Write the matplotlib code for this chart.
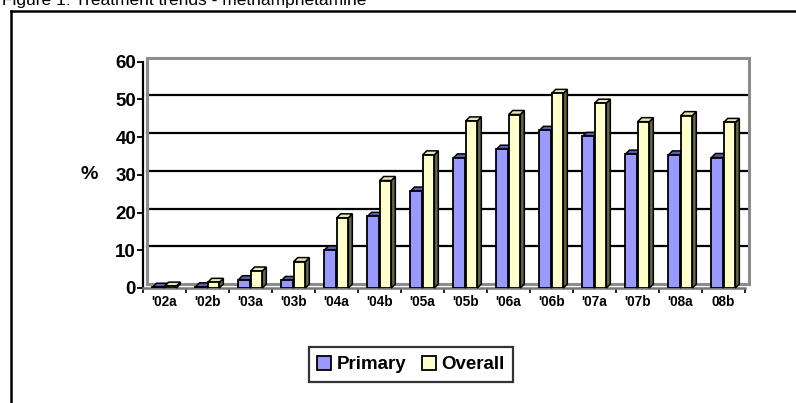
import matplotlib
matplotlib.use("Agg")
import matplotlib.pyplot as plt
import numpy as np
from matplotlib.patches import Polygon, Patch
from matplotlib.lines import Line2D

plt.rcParams['font.family'] = ['Liberation Sans', 'DejaVu Sans']

# data
periods = ["'02a", "'02b", "'03a", "'03b", "'04a", "'04b", "'05a",
           "'05b", "'06a", "'06b", "'07a", "'07b", "'08a", "08b"]
primary = [0.2, 0.3, 2.2, 2.0, 10.1, 19.0, 25.7,
           34.5, 36.8, 41.8, 40.2, 35.5, 35.3, 34.6]
overall = [0.5, 1.5, 4.5, 7.0, 18.6, 28.5, 35.3,
           44.3, 46.0, 51.6, 49.0, 44.1, 45.7, 43.9]

W, H = 796, 403
fig = plt.figure(figsize=(W / 100, H / 100), dpi=100)

# title, cut off at the top like the source image
fig.text(2 / W, 1 - 5.5 / H, "Figure 1: Treatment trends - methamphetamine",
         fontsize=12.5, va='baseline', ha='left')

# outer frame (runs off the right and bottom edges)
fig.add_artist(Line2D([10.5 / W, 1.0], [1 - 10.5 / H, 1 - 10.5 / H],
                      color='black', lw=1.8, transform=fig.transFigure))
fig.add_artist(Line2D([10.5 / W, 10.5 / W], [1 - 10.5 / H, 0.0],
                      color='black', lw=1.8, transform=fig.transFigure))

ax_l, ax_r, ax_b, ax_t = 143, 745, 288, 61.7
ax = fig.add_axes([ax_l / W, 1 - ax_b / H, (ax_r - ax_l) / W, (ax_b - ax_t) / H])
n = len(periods)
ax.set_xlim(-0.5, n - 0.5)
ax.set_ylim(0, 60)

# 3D depth offset in data units (about 4 px each way)
dx = 4 / ((ax_r - ax_l) / n)
dy = 4 / ((ax_b - ax_t) / 60)

# back wall: gridlines and grey border
for v in [10, 20, 30, 40, 50]:
    ax.plot([-0.5 + dx, n - 0.5 + dx], [v + dy, v + dy], color='black',
            lw=1.6, zorder=1, clip_on=False)
wall = dict(color='#8c8c8c', lw=2.2, zorder=1, clip_on=False)
ax.plot([-0.5 + dx, n - 0.5 + dx], [60 + dy, 60 + dy], **wall)
ax.plot([n - 0.5 + dx, n - 0.5 + dx], [dy, 60 + dy], **wall)
ax.plot([-0.5 + dx, -0.5 + dx], [dy, 60 + dy], **wall)
ax.plot([-0.5 + dx, n - 0.5 + dx], [dy, dy], **wall)

x = np.arange(n)
bw = 0.27
series = [
    (primary, x - 0.28, '#9999FF', '#5c5cb0', '#2e2e66', 3),
    (overall, x + 0.005, '#FFFFCC', '#e8e8b4', '#66664a', 4),
]
for vals, lefts, front, top, side, z in series:
    ax.bar(lefts, vals, width=bw, align='edge', color=front,
           edgecolor='black', lw=1.3, zorder=z + 0.5)
    for l, v in zip(lefts, vals):
        r = l + bw
        ax.add_patch(Polygon([(r, 0), (r + dx, dy), (r + dx, v + dy), (r, v)],
                             closed=True, facecolor=side, edgecolor='black',
                             lw=1.1, zorder=z, clip_on=False))
        ax.add_patch(Polygon([(l, v), (l + dx, v + dy), (r + dx, v + dy), (r, v)],
                             closed=True, facecolor=top, edgecolor='black',
                             lw=1.1, zorder=z, clip_on=False))

# axes styling
for s in ['top', 'right']:
    ax.spines[s].set_visible(False)
ax.spines['left'].set_color('black')
ax.spines['left'].set_linewidth(1.6)
ax.spines['bottom'].set_color('#777777')
ax.spines['bottom'].set_linewidth(1.8)
ax.set_yticks([0, 10, 20, 30, 40, 50, 60])
ax.tick_params(axis='y', length=4, width=1.3, pad=1, labelsize=13.5)
for t in ax.get_yticklabels():
    t.set_fontweight('bold')

ax.set_xticks(np.arange(-0.5, n, 1.0))
ax.set_xticklabels([])
ax.tick_params(axis='x', which='major', length=3.5, width=1.2, color='black')
ax.set_xticks(x, minor=True)
ax.set_xticklabels(periods, minor=True, fontsize=9.8, fontweight='bold')
ax.tick_params(axis='x', which='minor', length=0, pad=5)

fig.text(89.5 / W, 1 - 174 / H, "%", fontsize=14, fontweight='bold',
         ha='center', va='center')

handles = [Patch(facecolor='#9999FF', edgecolor='black', lw=1.3, label='Primary'),
           Patch(facecolor='#FFFFCC', edgecolor='black', lw=1.3, label='Overall')]
leg = fig.legend(handles=handles, loc='center', bbox_to_anchor=(411 / W, 1 - 364.5 / H),
                 ncol=2, prop={'weight': 'bold', 'size': 13.5}, frameon=True,
                 fancybox=False, edgecolor='black', handlelength=0.75,
                 handleheight=0.75, handletextpad=0.3, columnspacing=0.8,
                 borderpad=0.45, borderaxespad=0)
leg.get_frame().set_linewidth(1.6)

fig.savefig("out.png", dpi=100)
